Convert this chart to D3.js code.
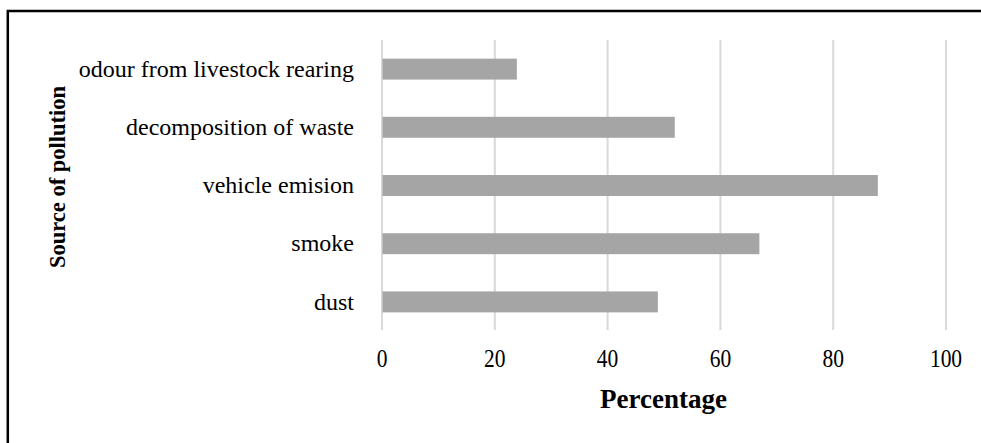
<!DOCTYPE html>
<html>
<head>
<meta charset="utf-8">
<script src="https://cdn.jsdelivr.net/npm/d3@7"></script>
<style>
  html, body { margin: 0; padding: 0; background: #fff; }
  svg { display: block; }
  text { font-family: "Liberation Serif", "Times New Roman", serif; fill: #000; }
</style>
</head>
<body>
<svg id="chart" width="981" height="443"></svg>
<script>
// Sources of pollution and share of respondents (%)
const categories = ["odour from livestock rearing", "decomposition of waste", "vehicle emision", "smoke", "dust"];
const values = [24, 52, 88, 67, 49];
const xTicks = [0, 20, 40, 60, 80, 100];
const xTitle = "Percentage";
const yTitle = "Source of pollution";

const svg = d3.select("#chart");

// frame around the chart area
svg.append("rect")
  .attr("x", 7.8).attr("y", 11)
  .attr("width", 1100).attr("height", 600)
  .attr("fill", "none").attr("stroke", "#000").attr("stroke-width", 2.5);

const plot = { left: 381.5, right: 945.5, top: 40, bottom: 331 };

const x = d3.scaleLinear().domain([0, 100]).range([plot.left, plot.right]);
const y = d3.scaleBand().domain(categories).range([plot.top, plot.bottom])
  .paddingInner(0.64).paddingOuter(0.32);

// vertical gridlines
const grid = svg.append("g")
  .attr("transform", `translate(0,${plot.bottom - 1})`)
  .call(d3.axisBottom(x).tickValues(xTicks).tickSize(-(plot.bottom - 1 - plot.top)).tickFormat(""));
grid.select(".domain").remove();
grid.selectAll(".tick line").attr("stroke", "#d9d9d9").attr("stroke-width", 2);

// bars
svg.append("g").selectAll("rect")
  .data(categories)
  .join("rect")
  .attr("x", x(0) + 1)
  .attr("y", d => y(d))
  .attr("width", (d, i) => x(values[i]) - x(0) - 1)
  .attr("height", y.bandwidth())
  .attr("fill", "#a5a5a5");

// x tick labels (narrow numerals)
const xAxis = svg.append("g")
  .attr("transform", `translate(0,${plot.bottom})`)
  .call(d3.axisBottom(x).tickValues(xTicks).tickSize(0).tickPadding(0));
xAxis.select(".domain").remove();
xAxis.selectAll(".tick text")
  .attr("y", 0).attr("dy", null)
  .attr("transform", "translate(0,36) scale(0.86,1)")
  .style("font-size", "25px")
  .style("font-family", "'Liberation Serif', 'Times New Roman', serif");

// y category labels
const yAxis = svg.append("g")
  .attr("transform", `translate(${plot.left},0)`)
  .call(d3.axisLeft(y).tickSize(0).tickPadding(27.5));
yAxis.select(".domain").remove();
yAxis.selectAll(".tick text")
  .style("font-size", "24px")
  .style("font-family", "'Liberation Serif', 'Times New Roman', serif");

// axis titles
svg.append("text")
  .attr("x", x(50)).attr("y", 408)
  .attr("text-anchor", "middle")
  .style("font-size", "27px").style("font-weight", "bold")
  .text(xTitle);

svg.append("text")
  .attr("transform", "translate(65,177) rotate(-90)")
  .attr("text-anchor", "middle")
  .style("font-size", "22.5px").style("font-weight", "bold")
  .text(yTitle);
</script>
</body>
</html>
